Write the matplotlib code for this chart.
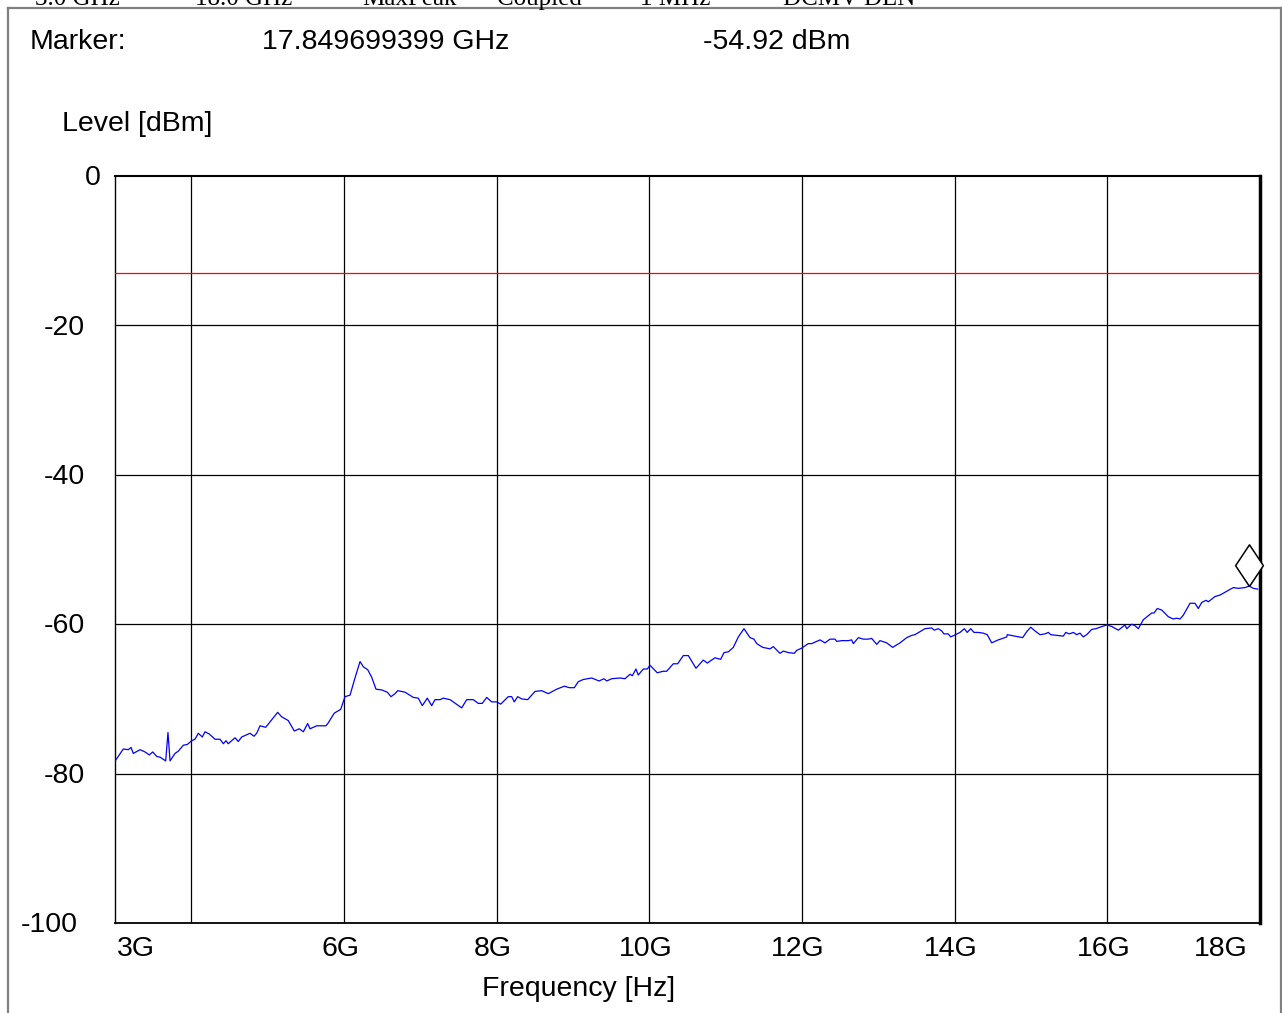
'''
Spectrum analyser style plot: measured level over frequency with limit line and marker.
'''

import matplotlib
matplotlib.use("Agg")
import matplotlib.pyplot as plt
from matplotlib.lines import Line2D

plt.rcParams['font.family'] = ['Liberation Sans', 'DejaVu Sans']

# trace (GHz, dBm)
freq_ghz = [3.009, 3.109, 3.174, 3.210, 3.240, 3.328, 3.393, 3.449, 3.494, 3.546,
            3.590, 3.664, 3.694, 3.721, 3.786, 3.829, 3.895, 3.947, 4.005, 4.048,
            4.091, 4.144, 4.179, 4.235, 4.310, 4.376, 4.419, 4.454, 4.484, 4.572,
            4.615, 4.660, 4.725, 4.769, 4.821, 4.856, 4.900, 4.974, 5.131, 5.184,
            5.270, 5.349, 5.414, 5.467, 5.524, 5.555, 5.642, 5.764, 5.794, 5.873,
            5.957, 6.013, 6.079, 6.144, 6.210, 6.253, 6.311, 6.363, 6.419, 6.494,
            6.567, 6.616, 6.668, 6.704, 6.799, 6.908, 6.973, 7.026, 7.091, 7.149,
            7.192, 7.258, 7.301, 7.389, 7.542, 7.607, 7.694, 7.759, 7.812, 7.869,
            7.935, 8.000, 8.053, 8.152, 8.197, 8.231, 8.275, 8.328, 8.406, 8.502,
            8.590, 8.676, 8.786, 8.886, 8.952, 9.017, 9.069, 9.135, 9.245, 9.341,
            9.406, 9.442, 9.507, 9.616, 9.681, 9.747, 9.777, 9.825, 9.855, 9.921,
            9.973, 10.009, 10.104, 10.183, 10.227, 10.314, 10.371, 10.445, 10.511, 10.611,
            10.707, 10.759, 10.860, 10.935, 10.978, 11.035, 11.100, 11.166, 11.240, 11.319,
            11.371, 11.407, 11.485, 11.581, 11.624, 11.712, 11.755, 11.821, 11.899, 11.931,
            11.996, 12.082, 12.127, 12.236, 12.301, 12.367, 12.432, 12.455, 12.520, 12.607,
            12.651, 12.672, 12.738, 12.803, 12.869, 12.913, 12.979, 13.022, 13.110, 13.188,
            13.284, 13.372, 13.437, 13.480, 13.611, 13.699, 13.733, 13.785, 13.830, 13.860,
            13.916, 13.948, 13.991, 14.070, 14.126, 14.165, 14.210, 14.253, 14.310, 14.375,
            14.427, 14.485, 14.571, 14.629, 14.682, 14.689, 14.790, 14.891, 14.944, 14.996,
            15.052, 15.118, 15.183, 15.227, 15.258, 15.337, 15.423, 15.455, 15.502, 15.554,
            15.599, 15.642, 15.685, 15.730, 15.795, 15.852, 15.904, 15.992, 16.057, 16.144,
            16.231, 16.254, 16.319, 16.362, 16.406, 16.471, 16.581, 16.611, 16.655, 16.712,
            16.799, 16.864, 16.909, 16.952, 16.995, 17.083, 17.148, 17.192, 17.236, 17.293,
            17.323, 17.410, 17.476, 17.564, 17.650, 17.716, 17.803, 17.860, 17.912, 17.970]
level_dbm = [-78.2, -76.7, -76.8, -76.5, -77.3, -76.8, -77.1, -77.5, -77.1, -77.7,
             -77.8, -78.3, -74.5, -78.3, -77.3, -77.0, -76.2, -76.1, -75.6, -75.4,
             -74.6, -75.1, -74.4, -74.7, -75.4, -75.4, -76.0, -75.6, -76.0, -75.2,
             -75.7, -75.1, -74.8, -74.6, -75.0, -74.6, -73.6, -73.8, -71.8, -72.4,
             -72.9, -74.3, -74.0, -74.4, -73.3, -74.0, -73.6, -73.6, -73.2, -71.9,
             -71.4, -69.7, -69.5, -67.2, -65.0, -65.7, -66.1, -67.1, -68.7, -68.8,
             -69.1, -69.7, -69.3, -68.9, -69.1, -69.8, -69.9, -70.9, -69.9, -70.9,
             -70.1, -70.1, -69.9, -70.1, -71.2, -70.1, -70.1, -70.6, -70.6, -69.8,
             -70.4, -70.4, -70.7, -69.7, -69.7, -70.4, -69.7, -70.0, -70.1, -69.0,
             -68.9, -69.3, -68.7, -68.3, -68.5, -68.5, -67.7, -67.4, -67.2, -67.6,
             -67.3, -67.6, -67.3, -67.2, -67.3, -66.7, -66.9, -66.0, -66.8, -66.0,
             -66.0, -65.5, -66.5, -66.3, -66.3, -65.3, -65.3, -64.2, -64.2, -65.9,
             -64.8, -65.2, -64.5, -64.7, -63.8, -63.7, -63.1, -61.7, -60.6, -61.8,
             -62.0, -62.6, -63.1, -63.3, -63.0, -63.9, -63.6, -63.8, -63.9, -63.5,
             -63.2, -62.6, -62.6, -62.1, -62.5, -62.0, -62.0, -62.3, -62.2, -62.2,
             -62.1, -62.6, -61.8, -62.0, -62.0, -61.9, -62.7, -62.2, -62.5, -63.1,
             -62.5, -61.8, -61.5, -61.4, -60.6, -60.5, -60.8, -60.6, -60.9, -61.3,
             -61.3, -61.7, -61.5, -61.1, -60.6, -61.1, -60.6, -61.1, -61.1, -61.2,
             -61.4, -62.5, -62.1, -61.9, -61.7, -61.4, -61.6, -61.8, -61.0, -60.4,
             -60.9, -61.4, -61.3, -61.1, -61.4, -61.5, -61.6, -61.1, -61.3, -61.1,
             -61.4, -61.2, -61.7, -61.4, -60.7, -60.6, -60.4, -60.1, -60.3, -60.8,
             -60.1, -60.6, -60.0, -60.2, -60.6, -59.4, -58.5, -58.5, -57.9, -58.1,
             -59.0, -59.3, -59.2, -59.3, -58.8, -57.2, -57.2, -57.9, -57.1, -56.8,
             -57.0, -56.3, -56.1, -55.6, -55.1, -55.2, -55.1, -54.9, -55.2, -55.3]

limit_dbm = -13
marker_freq_ghz = 17.849699399
marker_level_dbm = -54.92

x_grid = [4, 6, 8, 10, 12, 14, 16]
x_tick_labels = ['3G', '6G', '8G', '10G', '12G', '14G', '16G', '18G']
x_tick_values = [3, 6, 8, 10, 12, 14, 16, 18]
y_ticks = [0, -20, -40, -60, -80, -100]
header_texts = ['3.0 GHz', '18.0 GHz', 'MaxPeak', 'Coupled', '1 MHz', 'DCMV DLN']

FS = 20.5
W, H = 1282, 1013
fig = plt.figure(figsize=(W / 100, H / 100), dpi=100)
fig.patch.set_facecolor('white')


def fx(px):
    return px / W


def fy(py):
    return 1 - py / H


# outer grey frame of the report panel
frame_kw = dict(color='#808080', linewidth=1.6, transform=fig.transFigure)
fig.add_artist(Line2D([fx(8), fx(8)], [fy(8), 0], **frame_kw))
fig.add_artist(Line2D([fx(8), 1], [fy(8), fy(8)], **frame_kw))
fig.add_artist(Line2D([fx(1281), fx(1281)], [fy(8), 0], **frame_kw))

# header row, mostly cut off by the top edge as in the reference
header_x = [35, 195, 362, 497, 640, 783]
for x, t in zip(header_x, header_texts):
    fig.text(fx(x), fy(5), t, fontsize=18, family='Liberation Serif',
             va='baseline', ha='left')

fig.text(fx(30), fy(42), 'Marker:', fontsize=FS, va='center', ha='left')
fig.text(fx(262), fy(42), f'{marker_freq_ghz:.9f} GHz', fontsize=FS, va='center', ha='left')
fig.text(fx(703), fy(42), f'{marker_level_dbm:.2f} dBm', fontsize=FS, va='center', ha='left')
fig.text(fx(62), fy(124), 'Level [dBm]', fontsize=FS, va='center', ha='left')

ax = fig.add_axes([fx(115), fy(923), fx(1260) - fx(115), (923 - 176) / H])
ax.set_xlim(3, 18)
ax.set_ylim(-100, 0)

ax.set_xticks(x_grid)
ax.set_yticks(y_ticks[1:-1])
ax.tick_params(length=0, labelbottom=False, labelleft=False)
ax.grid(True, color='black', linewidth=0.9)
ax.set_axisbelow(True)

for side, lw in [('left', 1.0), ('top', 1.5), ('right', 2.5), ('bottom', 1.3)]:
    ax.spines[side].set_linewidth(lw)
    ax.spines[side].set_color('black')

ax.axhline(limit_dbm, color='#ff0000', linewidth=0.9, zorder=3)
ax.plot(freq_ghz, level_dbm, color='#0000ff', linewidth=0.9, zorder=4)

# diamond marker sitting on top of the marker point
diamond = [(0, 0), (-0.667, 1), (0, 2), (0.667, 1), (0, 0)]
ax.plot([marker_freq_ghz], [marker_level_dbm], marker=diamond, markersize=60,
        markerfacecolor='white', markeredgecolor='black', markeredgewidth=1.1,
        linestyle='none', zorder=5, clip_on=False)

# x tick labels (drawn slightly left of the grid lines as in the reference)
xt = ax.get_xaxis_transform()
label_y = (923 - 949) / 747
for val, lab in zip(x_tick_values, x_tick_labels):
    if val == 3:
        ax.text(3.03, label_y, lab, transform=xt, fontsize=FS, ha='left', va='center')
    elif val == 18:
        ax.text(17.84, label_y, lab, transform=xt, fontsize=FS, ha='right', va='center')
    else:
        ax.text(val - 0.05, label_y, lab, transform=xt, fontsize=FS, ha='center', va='center')

# y tick labels, nudged down a little like the reference
yt = ax.get_yaxis_transform()
for val in y_ticks:
    if val == 0:
        right_px = 101
    elif val == -100:
        right_px = 78
    else:
        right_px = 85
    ax.text((right_px - 115) / 1145, val - 0.3, str(val), transform=yt, fontsize=FS,
            ha='right', va='center')

fig.text(fx(579), fy(989), 'Frequency [Hz]', fontsize=FS, va='center', ha='center')

fig.savefig('out.png', dpi=100)
